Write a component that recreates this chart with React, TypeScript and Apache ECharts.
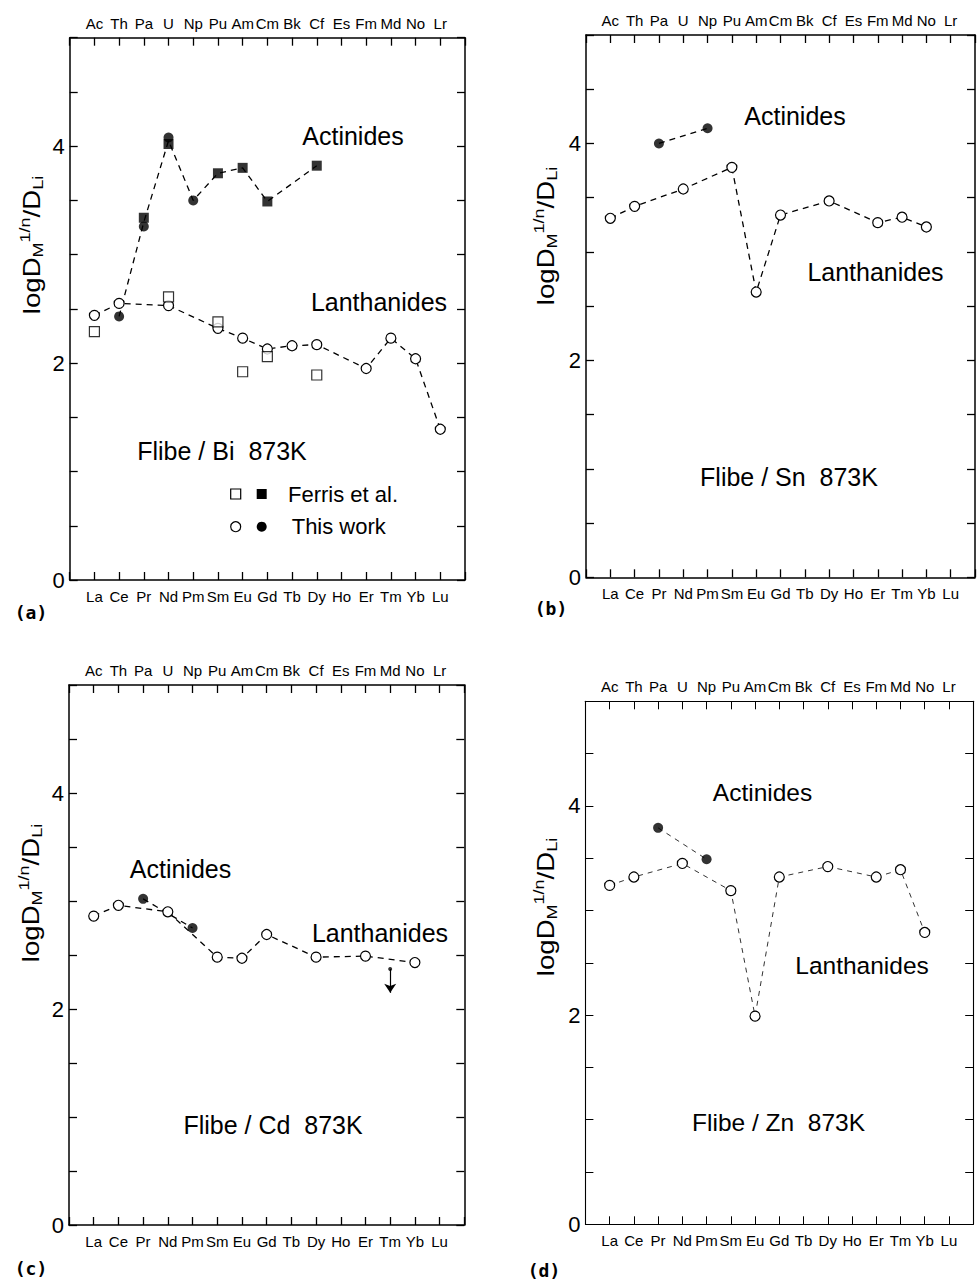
import React, { useEffect, useRef } from 'react';
import * as echarts from 'echarts';

// ---------- categories / tick labels ----------
const lanthanides = ['La', 'Ce', 'Pr', 'Nd', 'Pm', 'Sm', 'Eu', 'Gd', 'Tb', 'Dy', 'Ho', 'Er', 'Tm', 'Yb', 'Lu'];
const actinides = ['Ac', 'Th', 'Pa', 'U', 'Np', 'Pu', 'Am', 'Cm', 'Bk', 'Cf', 'Es', 'Fm', 'Md', 'No', 'Lr'];
const yTickLabels = [0, 2, 4];

// ---------- (a) Flibe / Bi 873K ----------
const biLanThis = [2.44, 2.55, null, 2.53, null, 2.32, 2.23, 2.13, 2.16, 2.17, null, 1.95, 2.23, 2.04, 1.39];
const biLanFerris = [2.29, null, null, 2.61, null, 2.38, 1.92, 2.06, null, 1.89, null, null, null, null, null];
const biActThis = [null, 2.43, 3.26, 4.08, 3.5, null, null, null, null, null, null, null, null, null, null];
const biActFerris = [null, null, 3.34, 4.02, null, 3.75, 3.8, 3.49, null, 3.82, null, null, null, null, null];

// ---------- (b) Flibe / Sn 873K ----------
const snLanThis = [3.31, 3.42, null, 3.58, null, 3.78, 2.63, 3.34, null, 3.47, null, 3.27, 3.32, 3.23, null];
const snActThis = [null, null, 4.0, null, 4.14, null, null, null, null, null, null, null, null, null, null];

// ---------- (c) Flibe / Cd 873K ----------
const cdLanThis = [2.86, 2.96, null, 2.9, null, 2.48, 2.47, 2.69, null, 2.48, null, 2.49, null, 2.43, null];
const cdActThis = [null, null, 3.02, null, 2.75, null, null, null, null, null, null, null, null, null, null];
const cdLanUpperLimit = [null, null, null, null, null, null, null, null, null, null, null, null, 2.37, null, null];

// ---------- (d) Flibe / Zn 873K ----------
const znLanThis = [3.24, 3.32, null, 3.45, null, 3.19, 1.99, 3.32, null, 3.42, null, 3.32, 3.39, 2.79, null];
const znActThis = [null, null, 3.79, null, 3.49, null, null, null, null, null, null, null, null, null, null];

const panelTitles = ['Flibe / Bi  873K', 'Flibe / Sn  873K', 'Flibe / Cd  873K', 'Flibe / Zn  873K'];
const panelLetters = ['(a)', '(b)', '(c)', '(d)'];
const legendLabels = ['Ferris et al.', 'This work'];

const FONT = "'Liberation Sans', Arial, Helvetica, sans-serif";
const ARROW_DROP = 0.22;

type Arr = (number | null)[];

const panels = [
  { lanThis: biLanThis, lanFerris: biLanFerris as Arr | null, actThis: biActThis, actFerris: biActFerris as Arr | null, limit: null as Arr | null },
  { lanThis: snLanThis, lanFerris: null, actThis: snActThis, actFerris: null, limit: null },
  { lanThis: cdLanThis, lanFerris: null, actThis: cdActThis, actFerris: null, limit: cdLanUpperLimit },
  { lanThis: znLanThis, lanFerris: null, actThis: znActThis, actFerris: null, limit: null },
];

const layouts = [
  { grid: { left: 69.7, top: 37.7, width: 395.3, height: 542.3 }, yTitle: [32, 245], act: [353, 136], lan: [379, 301.7], title: [222, 451], letter: [31, 612], fs: 25, thin: false },
  { grid: { left: 586, top: 35, width: 395.3, height: 542.3 }, yTitle: [546, 236], act: [795, 116], lan: [875.5, 271.7], title: [789, 476.7], letter: [551, 608], fs: 25, thin: false },
  { grid: { left: 69, top: 685, width: 395.3, height: 540 }, yTitle: [31, 893], act: [180.5, 869.3], lan: [380, 933.3], title: [273, 1125], letter: [31, 1268], fs: 25, thin: false },
  { grid: { left: 585.4, top: 701.3, width: 387.8, height: 523 }, yTitle: [546, 907], act: [762.5, 792.3], lan: [862, 965.7], title: [778.5, 1122.7], letter: [544, 1270], fs: 24.5, thin: true },
];

function pairs(vals: Arr): [number, number][] {
  const out: [number, number][] = [];
  vals.forEach((v, i) => {
    if (v != null) out.push([i + 1, v]);
  });
  return out;
}

function meanOf(a: Arr, b: Arr | null): Arr {
  return a.map((v, i) => {
    const list = [v, b ? b[i] : null].filter((x) => x != null) as number[];
    return list.length ? list.reduce((s, x) => s + x, 0) / list.length : null;
  });
}

function xAxisCfg(gridIndex: number, position: 'top' | 'bottom', names: string[], thin: boolean) {
  return {
    type: 'value',
    gridIndex,
    position,
    min: 0,
    max: 16,
    interval: 1,
    axisLine: { show: true, onZero: false, lineStyle: { color: '#000', width: thin ? 1.1 : 1.5 } },
    axisTick: { show: true, inside: true, length: 8, lineStyle: { color: '#000', width: thin ? 1 : 1.3 } },
    axisLabel: {
      show: true,
      margin: position === 'top' ? 7 : 9,
      fontSize: 15,
      color: '#000',
      fontFamily: FONT,
      formatter: (v: number) => names[Math.round(v) - 1] ?? '',
    },
    splitLine: { show: false },
  };
}

function yAxisCfg(gridIndex: number, position: 'left' | 'right', thin: boolean) {
  return {
    type: 'value',
    gridIndex,
    position,
    min: 0,
    max: 5,
    interval: 0.5,
    axisLine: { show: true, onZero: false, lineStyle: { color: '#000', width: thin ? 1.1 : 1.5 } },
    axisTick: { show: true, inside: true, length: 8, lineStyle: { color: '#000', width: thin ? 1 : 1.3 } },
    axisLabel: {
      show: position === 'left',
      margin: 5,
      fontSize: 22,
      color: '#000',
      fontFamily: FONT,
      formatter: (v: number) => (yTickLabels.some((t) => Math.abs(t - v) < 1e-6) ? String(Math.round(v)) : ''),
    },
    splitLine: { show: false },
  };
}

function buildOption() {
  const grids: any[] = [];
  const xAxes: any[] = [];
  const yAxes: any[] = [];
  const series: any[] = [];
  const graphics: any[] = [];

  panels.forEach((p, i) => {
    const L = layouts[i];
    grids.push({ ...L.grid, containLabel: false });
    xAxes.push(xAxisCfg(i, 'bottom', lanthanides, L.thin));
    xAxes.push(xAxisCfg(i, 'top', actinides, L.thin));
    yAxes.push(yAxisCfg(i, 'left', L.thin));
    yAxes.push(yAxisCfg(i, 'right', L.thin));

    const xb = 2 * i;
    const xt = 2 * i + 1;
    const yl = 2 * i;
    const lineStyle = L.thin
      ? { color: '#333', width: 1, type: [5, 5] }
      : { color: '#000', width: 1.3, type: [6, 5] };

    // actinide dashed line (top axis)
    series.push({
      type: 'line',
      xAxisIndex: xt,
      yAxisIndex: yl,
      data: pairs(meanOf(p.actThis, p.actFerris)),
      symbol: 'none',
      lineStyle,
      z: 2,
      silent: true,
    });
    // lanthanide line with open circles (this work)
    series.push({
      type: 'line',
      xAxisIndex: xb,
      yAxisIndex: yl,
      data: pairs(p.lanThis),
      symbol: 'circle',
      symbolSize: 10,
      showSymbol: true,
      itemStyle: { color: '#fff', borderColor: '#000', borderWidth: 1.2 },
      lineStyle,
      z: 3,
      silent: true,
    });
    if (p.lanFerris) {
      series.push({
        type: 'scatter',
        xAxisIndex: xb,
        yAxisIndex: yl,
        data: pairs(p.lanFerris),
        symbol: 'rect',
        symbolSize: 10,
        itemStyle: { color: '#fff', borderColor: '#000', borderWidth: 1.2 },
        z: 3,
        silent: true,
      });
    }
    if (p.actFerris) {
      series.push({
        type: 'scatter',
        xAxisIndex: xt,
        yAxisIndex: yl,
        data: pairs(p.actFerris),
        symbol: 'rect',
        symbolSize: 10,
        itemStyle: { color: '#000' },
        z: 4,
        silent: true,
      });
    }
    series.push({
      type: 'scatter',
      xAxisIndex: xt,
      yAxisIndex: yl,
      data: pairs(p.actThis),
      symbol: 'circle',
      symbolSize: 10,
      itemStyle: { color: '#000' },
      z: 5,
      silent: true,
    });
    if (p.limit) {
      const lp = pairs(p.limit);
      series.push({
        type: 'scatter',
        xAxisIndex: xb,
        yAxisIndex: yl,
        data: lp,
        symbol: 'circle',
        symbolSize: 4,
        itemStyle: { color: '#000' },
        z: 5,
        silent: true,
        markLine: {
          silent: true,
          symbol: ['none', 'arrow'],
          symbolSize: 9,
          label: { show: false },
          lineStyle: { color: '#000', width: 1.2, type: 'solid' },
          data: lp.map(([x, y]) => [{ coord: [x, y] }, { coord: [x, y - ARROW_DROP] }]),
        },
      });
    }

    // texts
    const txt = (pos: number[], text: string, fs: number) => ({
      type: 'text',
      x: pos[0],
      y: pos[1],
      silent: true,
      style: { text, fontSize: fs, fontFamily: FONT, fill: '#000', align: 'center', verticalAlign: 'middle' },
    });
    graphics.push(txt(L.act, 'Actinides', L.fs));
    graphics.push(txt(L.lan, 'Lanthanides', L.fs));
    graphics.push(txt(L.title, panelTitles[i], L.fs));
    graphics.push({
      type: 'text',
      x: L.letter[0],
      y: L.letter[1],
      silent: true,
      style: {
        text: panelLetters[i],
        fontSize: 18,
        fontWeight: 'bold',
        fontFamily: "'DejaVu Sans Mono', monospace",
        fill: '#000',
        align: 'center',
        verticalAlign: 'middle',
      },
    });
    graphics.push({
      type: 'text',
      x: L.yTitle[0],
      y: L.yTitle[1],
      rotation: Math.PI / 2,
      scaleX: 1.2,
      silent: true,
      style: {
        text: '{b|logD}{s|M}{p|1/n}{b|/D}{s|Li}',
        align: 'center',
        verticalAlign: 'middle',
        fill: '#000',
        fontFamily: FONT,
        fontSize: 23,
        rich: {
          b: { fontSize: 23, lineHeight: 28, fontFamily: FONT, fill: '#000' },
          s: { fontSize: 15, lineHeight: 15, verticalAlign: 'bottom', fontFamily: FONT, fill: '#000' },
          p: { fontSize: 15, lineHeight: 15, verticalAlign: 'top', fontFamily: FONT, fill: '#000' },
        },
      },
    });
  });

  // legend of panel (a)
  const legY = [494, 526.7];
  graphics.push({ type: 'rect', silent: true, shape: { x: 230.7, y: legY[0] - 5, width: 10, height: 10 }, style: { fill: '#fff', stroke: '#000', lineWidth: 1.2 } });
  graphics.push({ type: 'rect', silent: true, shape: { x: 256.7, y: legY[0] - 5, width: 10, height: 10 }, style: { fill: '#000' } });
  graphics.push({ type: 'circle', silent: true, shape: { cx: 235.7, cy: legY[1], r: 5 }, style: { fill: '#fff', stroke: '#000', lineWidth: 1.2 } });
  graphics.push({ type: 'circle', silent: true, shape: { cx: 261.7, cy: legY[1], r: 5 }, style: { fill: '#000' } });
  graphics.push({ type: 'text', silent: true, x: 288, y: legY[0], style: { text: legendLabels[0], fontSize: 22, fontFamily: FONT, fill: '#000', align: 'left', verticalAlign: 'middle' } });
  graphics.push({ type: 'text', silent: true, x: 291.7, y: legY[1], style: { text: legendLabels[1], fontSize: 22, fontFamily: FONT, fill: '#000', align: 'left', verticalAlign: 'middle' } });

  return {
    animation: false,
    backgroundColor: '#fff',
    grid: grids,
    xAxis: xAxes,
    yAxis: yAxes,
    series,
    graphic: graphics,
  };
}

export default function App() {
  const ref = useRef<HTMLDivElement>(null);
  useEffect(() => {
    if (!ref.current) return;
    const chart = echarts.init(ref.current, null, { renderer: 'svg', width: 978, height: 1282 });
    chart.setOption(buildOption() as any);
    return () => chart.dispose();
  }, []);
  return (
    <div
      ref={ref}
      style={{ position: 'absolute', left: 0, top: 0, width: 978, height: 1282, background: '#fff' }}
    />
  );
}
